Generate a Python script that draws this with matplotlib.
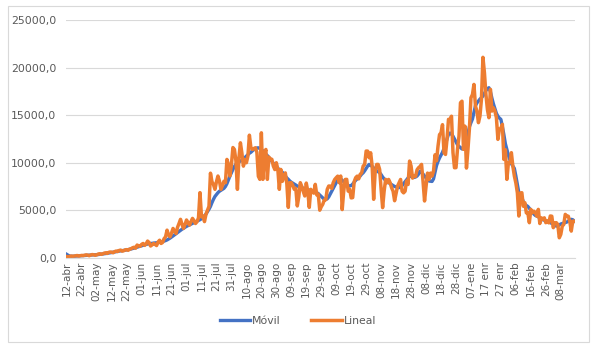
import numpy as np
import matplotlib
matplotlib.use("Agg")
import matplotlib.pyplot as plt
from matplotlib.patches import Rectangle

# Casos diarios (serie "Lineal"), 12-abr a 17-mar, un valor por dia
lineal = [
    120, 90, 130, 180, 150, 170, 200, 230, 160, 210,
    240, 220, 260, 300, 270, 210, 280, 330, 310, 250,
    300, 380, 420, 350, 400, 480, 520, 450, 560, 600,
    580, 520, 640, 700, 650, 760, 800, 690, 730, 820,
    850, 780, 900, 950, 1050, 1100, 1000, 1330, 1250, 1200,
    1400, 1500, 1300, 1450, 1750, 1600, 1230, 1350, 1500, 1400,
    1280, 1650, 1840, 1500, 1600, 2000, 2200, 2900, 2400, 2200,
    2600, 3080, 2800, 2550, 3200, 3600, 4040, 3500, 3080, 3500,
    3970, 3700, 3430, 3800, 4140, 3900, 3600, 3790, 4200, 6850,
    4300, 4400, 3800, 4575, 5000, 5400, 8900, 8000, 7700, 7200,
    8000, 8600, 8075, 7200, 7600, 8050, 7900, 10350, 9830, 8600,
    9800, 11600, 11400, 10200, 7200, 10500, 12100, 11000, 9640, 10350,
    10000, 10700, 12900, 11600, 11400, 11500, 11575, 11100, 8570, 8250,
    13150, 8250, 10875, 11400, 8250, 10600, 10400, 10360, 9650, 9280,
    10000, 9300, 7200, 9300, 8040, 8600, 8930, 7800, 5300, 7900,
    7900, 7600, 7200, 7300, 5450, 6430, 7900, 7500, 6970, 6500,
    7860, 7000, 5300, 7200, 6970, 6800, 7725, 6610, 6700, 5000,
    5360, 5625, 6070, 6100, 7190, 7550, 7540, 7300, 7900, 8240,
    8425, 8590, 7900, 8600, 5070, 7000, 8240, 8250, 7010, 7200,
    6300, 6325, 8000, 8425, 8590, 8300, 8775, 8940, 9650, 9820,
    11230, 11225, 10525, 11050, 9650, 6150, 9000, 9820, 9825, 9300,
    7190, 5275, 7000, 8250, 7900, 8240, 7900, 7360, 7000, 6000,
    6800, 7550, 7900, 8240, 7000, 6830, 7000, 8075, 7710, 10175,
    9650, 8380, 8600, 8560, 9260, 9475, 9610, 9825, 8030, 5975,
    7500, 8910, 8250, 8910, 8600, 9125, 10840, 10200, 11750, 12960,
    13150, 14010, 11060, 10875, 12460, 14570, 14540, 14900, 11060, 9475,
    9480, 11410, 12800, 16320, 16480, 11410, 13850, 9440, 11410, 13660,
    16850, 17180, 18250, 15970, 15420, 14220, 14900, 16670, 21100, 19480,
    17180, 15600, 14740, 17730, 15440, 15780, 15440, 14740, 12460, 13510,
    13650, 14040, 10350, 11370, 8250, 9970, 9990, 11060, 9620, 8600,
    7870, 6840, 4390, 6820, 6840, 5420, 5790, 4720, 4740, 3685,
    5090, 4720, 4900, 4740, 4370, 5090, 3600, 4200, 4040, 4200,
    3685, 3860, 3670, 4390, 4370, 3160, 3670, 3690, 3500, 2100,
    2450, 3330, 3500, 4560, 4390, 4370, 3860, 2800, 3850, 3850,
]

# Media movil (serie "Movil")
movil = [
    350, 250, 170, 150, 150, 160, 170, 180, 185, 190,
    200, 210, 220, 235, 250, 260, 270, 280, 290, 300,
    310, 330, 350, 370, 390, 410, 440, 460, 490, 520,
    550, 580, 610, 640, 670, 700, 720, 740, 760, 790,
    820, 850, 880, 920, 960, 1010, 1060, 1110, 1160, 1210,
    1260, 1310, 1360, 1400, 1440, 1470, 1490, 1500, 1520, 1540,
    1560, 1590, 1620, 1650, 1690, 1740, 1800, 1870, 1960, 2060,
    2170, 2290, 2410, 2530, 2650, 2780, 2900, 3000, 3100, 3200,
    3300, 3380, 3460, 3540, 3620, 3700, 3780, 3850, 3920, 4000,
    4100, 4250, 4400, 4600, 4850, 5100, 5400, 5800, 6150, 6450,
    6650, 6850, 7000, 7100, 7200, 7300, 7500, 7800, 8200, 8600,
    8950, 9300, 9600, 9850, 10000, 10100, 10175, 10250, 10400, 10550,
    10700, 10850, 11000, 11100, 11250, 11400, 11500, 11550, 11575, 11500,
    11400, 11250, 11100, 10900, 10750, 10550, 10350, 10150, 9950, 9750,
    9550, 9400, 9300, 9150, 9000, 8800, 8600, 8400, 8250, 8075,
    7950, 7850, 7750, 7650, 7550, 7480, 7420, 7375, 7330, 7280,
    7230, 7180, 7120, 7060, 7000, 6950, 6900, 6850, 6750, 6600,
    6450, 6300, 6150, 6130, 6200, 6400, 6700, 7000, 7300, 7600,
    7900, 8200, 8425, 8300, 8150, 8000, 7850, 7700, 7600, 7550,
    7600, 7750, 7950, 8150, 8300, 8425, 8600, 8800, 8940, 9150,
    9400, 9650, 9825, 9750, 9600, 9450, 9300, 9150, 9050, 8950,
    8750, 8500, 8300, 8150, 8000, 7900, 7800, 7700, 7600, 7500,
    7450, 7400, 7375, 7450, 7600, 7800, 8000, 8200, 8400, 8600,
    8600, 8500, 8450, 8500, 8600, 8800, 9125, 9000, 8800, 8600,
    8400, 8250, 8075, 8050, 8030, 8300, 9000, 9700, 10140, 10500,
    10800, 11100, 11500, 12000, 12500, 13000, 13130, 13000, 12800, 12500,
    12200, 11900, 11720, 11600, 11450, 11500, 11700, 12300, 13100, 13800,
    14220, 14600, 15300, 16000, 16300, 16500, 16700, 16850, 17020, 17300,
    17600, 17800, 17900, 17500, 16800, 16200, 15700, 15200, 14900, 14700,
    14570, 13800, 12950, 12000, 11400, 10800, 10300, 9900, 9650, 9400,
    8600, 7700, 6840, 6600, 6300, 5900, 5600, 5500, 5400, 5200,
    5000, 4800, 4600, 4450, 4390, 4300, 4200, 4100, 4000, 3950,
    3860, 3850, 3800, 3700, 3600, 3500, 3400, 3330, 3350, 3450,
    3550, 3600, 3650, 3690, 3750, 3850, 3950, 4040, 4000, 3850,
]

etiquetas = ['12-abr', '22-abr', '02-may', '12-may', '22-may', '01-jun', '11-jun',
             '21-jun', '01-jul', '11-jul', '21-jul', '31-jul', '10-ago', '20-ago',
             '30-ago', '09-sep', '19-sep', '29-sep', '09-oct', '19-oct', '29-oct',
             '08-nov', '18-nov', '28-nov', '08-dic', '18-dic', '28-dic', '07-ene',
             '17 enr', '27 enr', '06-feb', '16-feb', '26-feb', '08-mar']

gris = '#595959'
fig = plt.figure(figsize=(6.02, 3.56), dpi=100)
ax = fig.add_axes([66 / 602, 1 - 257.7 / 356, 509 / 602, (257.7 - 20.3) / 356])

dias = np.arange(len(lineal))
ax.plot(np.arange(len(movil)), movil, color='#4472C4', lw=2.4, label='Móvil',
        solid_joinstyle='round')
ax.plot(dias, lineal, color='#ED7D31', lw=2.5, label='Lineal', solid_joinstyle='round')

ax.set_xlim(-0.5, len(lineal) - 0.5)
ax.set_ylim(0, 25000)
ax.set_yticks(np.arange(0, 25001, 5000))
ax.set_yticklabels([f"{v:.1f}".replace('.', ',') for v in np.arange(0, 25001, 5000)])
ax.set_xticks(np.arange(0, 10 * len(etiquetas), 10))
ax.set_xticklabels(etiquetas, rotation=90)

ax.grid(axis='y', color='#D9D9D9', lw=0.8)
ax.set_axisbelow(True)
for s in ['top', 'right', 'left']:
    ax.spines[s].set_visible(False)
ax.spines['bottom'].set_color('#D9D9D9')
ax.spines['bottom'].set_linewidth(0.8)
ax.tick_params(axis='both', length=0, colors=gris)
ax.tick_params(axis='y', pad=7, labelsize=7.8)
ax.tick_params(axis='x', pad=3, labelsize=7.5)

fig.legend(loc='center', bbox_to_anchor=(298 / 602, 1 - 321 / 356), ncol=2,
           frameon=False, fontsize=7.8, labelcolor=gris, handlelength=2.8,
           columnspacing=2.8, handletextpad=0.2)

fig.patches.append(Rectangle((8 / 602, 1 - 342 / 356), 581 / 602, 336 / 356,
                             transform=fig.transFigure, fill=False,
                             edgecolor='#D9D9D9', lw=0.8))

fig.savefig('out.png', dpi=100)
